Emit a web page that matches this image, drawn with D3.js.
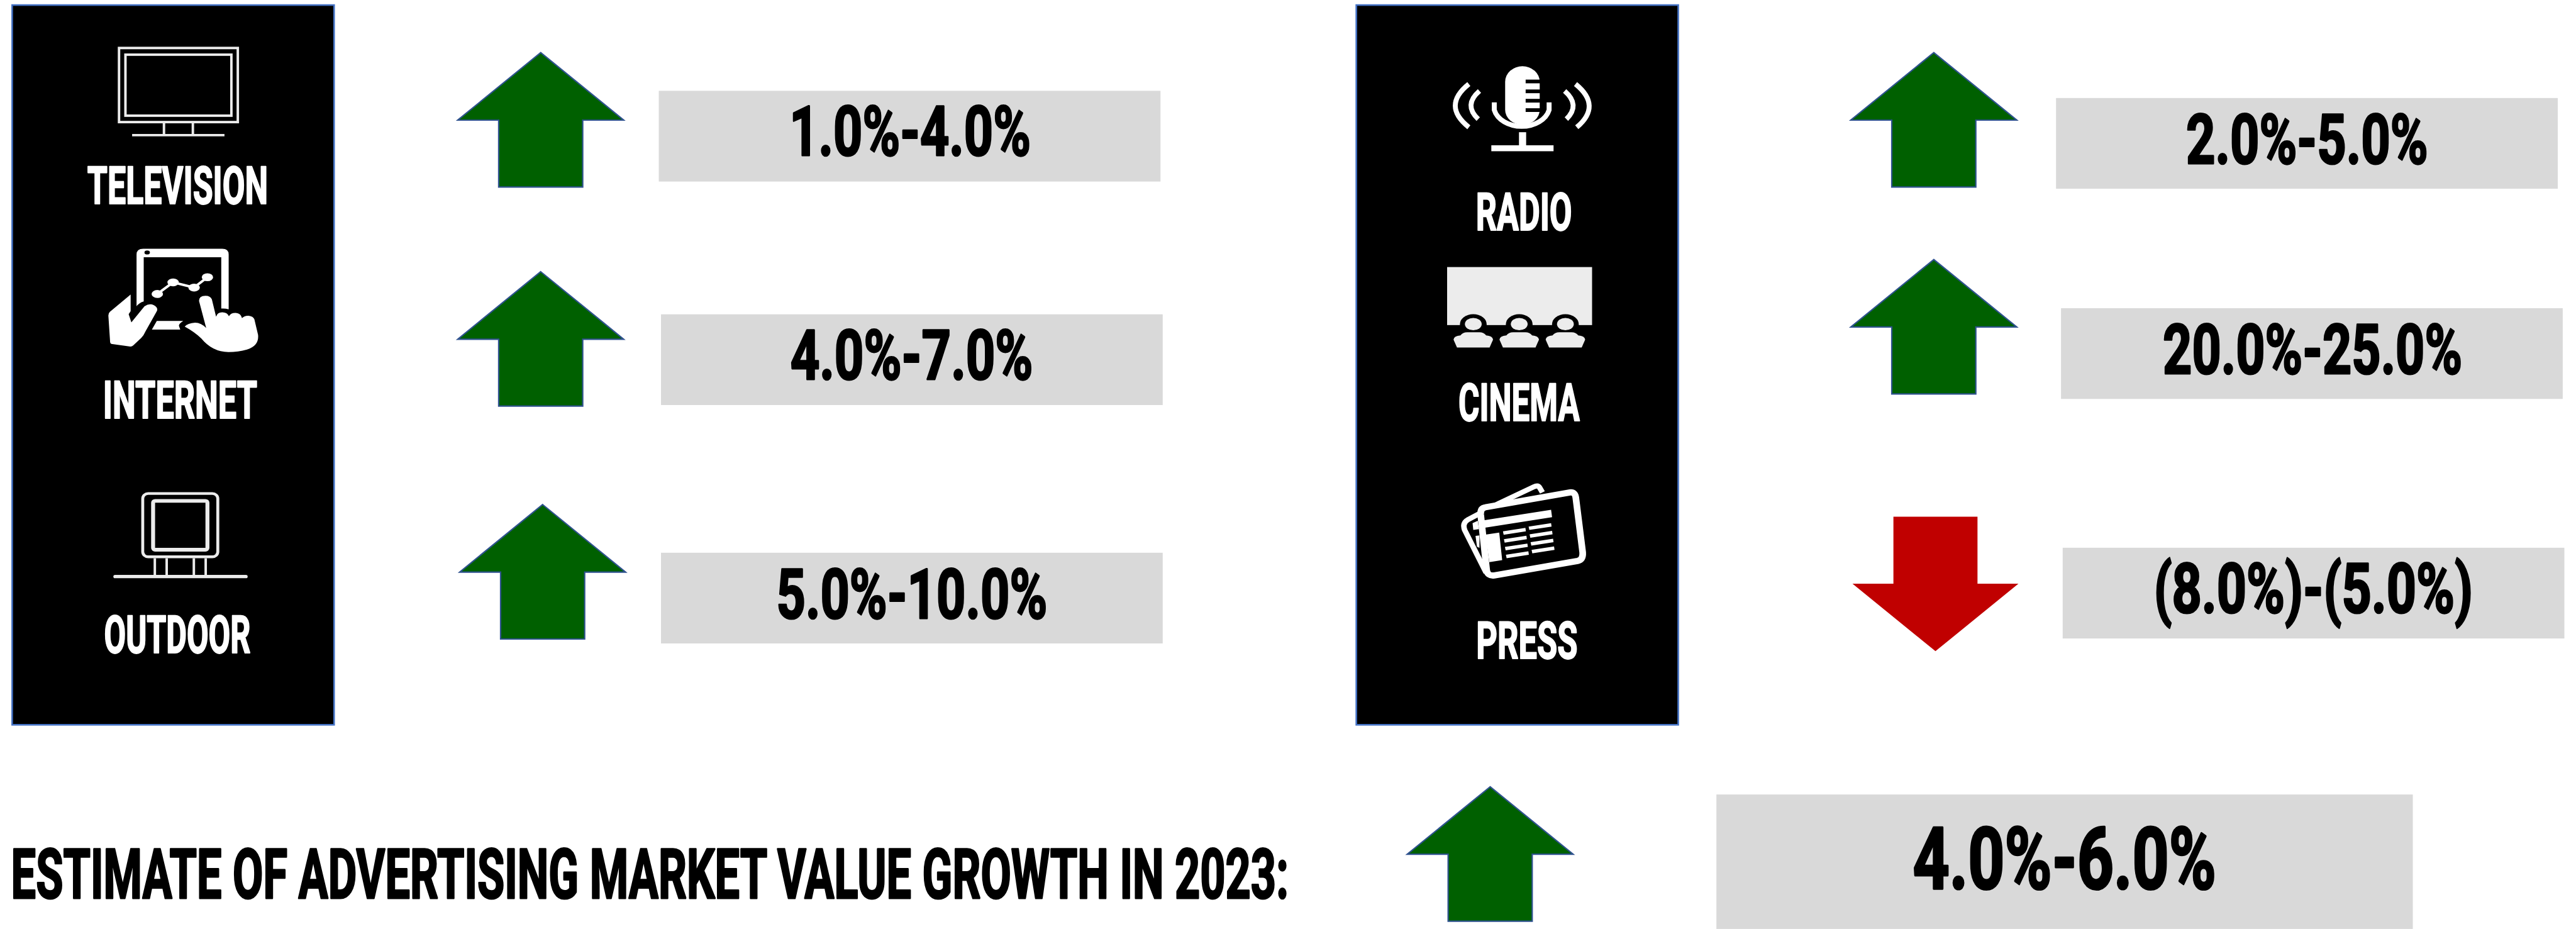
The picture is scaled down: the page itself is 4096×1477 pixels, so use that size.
<!DOCTYPE html>
<html lang="en">
<head>
<meta charset="utf-8">
<title>Advertising market value growth, 2023 estimate</title>
<script src="https://cdn.jsdelivr.net/npm/d3@7/dist/d3.min.js"></script>
<style>
  html, body { margin: 0; padding: 0; background: #fff; overflow: hidden; }
  svg { display: block; }
  text { text-rendering: geometricPrecision; }
</style>
</head>
<body>
<div id="chart"></div>
<script>
// ---- Data ----
const media = ["TELEVISION", "INTERNET", "OUTDOOR", "RADIO", "CINEMA", "PRESS"];
const growthLow = [1, 4, 5, 2, 20, -8];
const growthHigh = [4, 7, 10, 5, 25, -5];
const totalLow = 4;
const totalHigh = 6;
const headline = "ESTIMATE OF ADVERTISING MARKET VALUE GROWTH IN 2023:";

// ---- Layout, in units of the 4657-wide drawing ----
const WIDTH = 4657, HEIGHT = 1679;
const FONT = "'Liberation Sans Narrow', 'Roboto', sans-serif";
const panelX = [22, 2452];
const panelW = 582, panelY = 9, panelH = 1301;
// Ink extents for each label: [left, right, baseline, cap height]
const mediaInk = [
  [158.5, 481, 368, 68], [190, 464, 756, 68], [190, 452, 1180, 68],
  [2672, 2840, 416, 68], [2638.5, 2856, 760, 68], [2672, 2850.5, 1190, 67]
];
const valueInk = [
  [1434.5, 1860, 281, 90], [1431, 1864, 685, 90], [1408, 1890, 1117, 90],
  [3955, 4386, 295, 90], [3913, 4448, 675, 90], [3899, 4466, 1107, 90]
];
const totalInk = [3461, 4002, 1606, 112];
const headlineInk = [24.5, 2327, 1623, 90];
// Arrow placement: [centre x, top y]
const arrowAt = [[977.5, 95], [977.5, 491], [981, 912], [3496, 95], [3496, 469], [3499, 934]];
const totalArrowAt = [2694, 1422];
// Value boxes: [x, y, width, height]
const valueBox = [
  [1191, 164, 907, 164], [1195, 568, 907, 164], [1195, 999, 907, 164],
  [3717, 177, 907, 164], [3726, 557, 907, 164], [3729, 990, 907, 164]
];
const totalBox = [3103, 1436, 1259, 243];

const COLORS = { up: "#006000", down: "#c00000", outline: "#2f528f", box: "#d9d9d9", panelEdge: "#4472c4", icon: "#ffffff", soft: "#ececec" };

// ---- Helpers ----
const svg = d3.select("#chart").append("svg")
  .attr("width", 4096).attr("height", 1477)
  .attr("viewBox", `0 0 ${WIDTH} ${HEIGHT}`);

const ctx = document.createElement("canvas").getContext("2d");
const inkOf = (str, size) => {
  ctx.font = `bold ${size}px ${FONT}`;
  return ctx.measureText(str);
};
const capRatio = inkOf("H", 400).actualBoundingBoxAscent / 400;

// Places a label so its ink fills the given extent, narrowing the glyphs horizontally as needed.
function fittedText(parent, str, [left, right, base, cap], fill, weight) {
  const size = cap / capRatio;
  const m = inkOf(str, size);
  const inkW = m.actualBoundingBoxRight + m.actualBoundingBoxLeft;
  const sx = (right - left) / inkW;
  parent.append("text")
    .attr("transform", `translate(${left + m.actualBoundingBoxLeft * sx},${base}) scale(${sx},1)`)
    .attr("font-family", FONT).attr("font-weight", 700).attr("font-size", size)
    .attr("fill", fill).attr("stroke", fill).attr("stroke-width", weight)
    .attr("stroke-linejoin", "round").text(str);
}

const pct = v => v < 0 ? `(${Math.abs(v).toFixed(1)}%)` : `${v.toFixed(1)}%`;
const rangeLabel = (lo, hi) => `${pct(lo)}-${pct(hi)}`;

const arrowLine = d3.line();
// Block arrow built from its centre and top; direction follows the sign of the growth range.
function arrow(parent, [cx, top], value) {
  const up = value >= 0, hw = 150, sw = 76, len = 243, head = 122;
  const y = t => up ? top + t : top + len - t;
  const pts = [[cx, y(0)], [cx + hw, y(head)], [cx + sw, y(head)], [cx + sw, y(len)],
               [cx - sw, y(len)], [cx - sw, y(head)], [cx - hw, y(head)]];
  parent.append("path").attr("d", arrowLine(pts) + "Z")
    .attr("fill", up ? COLORS.up : COLORS.down)
    .attr("stroke", up ? COLORS.outline : "none").attr("stroke-width", 2.5);
}

// ---- Black panels and value rows ----
svg.selectAll("rect.panel").data(panelX).join("rect").attr("class", "panel")
  .attr("x", d => d).attr("y", panelY).attr("width", panelW).attr("height", panelH)
  .attr("fill", "#000").attr("stroke", COLORS.panelEdge).attr("stroke-width", 3);

media.forEach((name, i) => {
  fittedText(svg, name, mediaInk[i], "#fff", 2.5);
  arrow(svg, arrowAt[i], growthLow[i]);
  const [x, y, w, h] = valueBox[i];
  svg.append("rect").attr("x", x).attr("y", y).attr("width", w).attr("height", h).attr("fill", COLORS.box);
  fittedText(svg, rangeLabel(growthLow[i], growthHigh[i]), valueInk[i], "#000", 3.5);
});

// ---- Overall estimate row ----
fittedText(svg, headline, headlineInk, "#000", 3.5);
arrow(svg, totalArrowAt, totalLow);
svg.append("rect").attr("x", totalBox[0]).attr("y", totalBox[1]).attr("width", totalBox[2]).attr("height", totalBox[3]).attr("fill", COLORS.box);
fittedText(svg, rangeLabel(totalLow, totalHigh), totalInk, "#000", 4);

// ---- Media icons, each drawn in its own local grid ----
const iconGroup = (dx, dy, sy = 1 / 2.24) => svg.append("g").attr("transform", `translate(${dx},${dy}) scale(${1 / 2.24},${sy})`);
const LOWER_SY = 1 / 2.412;

// Television
{
  const g = iconGroup(0, 0).attr("fill", "none").attr("stroke", COLORS.soft).attr("stroke-width", 10);
  g.append("rect").attr("x", 482).attr("y", 194).attr("width", 481).attr("height", 300);
  g.append("rect").attr("x", 508).attr("y", 221).attr("width", 429).attr("height", 247);
  g.append("path").attr("d", "M664,499V547M781,499V547M535,547H909");
}

// Tablet and hands
{
  const g = iconGroup(0, 0).attr("fill", COLORS.icon);
  g.append("path").attr("d", "M553,1240V1030Q553,1007 580,1007H900Q926,1007 926,1030V1252Q912,1248 896,1249V1041H582V1220Q562,1226 553,1240Z");
  g.append("ellipse").attr("cx", 596).attr("cy", 1022).attr("rx", 11).attr("ry", 8).attr("fill", "#000");
  const nodes = [[637, 1190], [701, 1143], [786, 1164], [840, 1122]];
  g.append("path").attr("d", d3.line()(nodes)).attr("fill", "none").attr("stroke", COLORS.icon).attr("stroke-width", 10);
  g.selectAll("ellipse.node").data(nodes).join("ellipse").attr("class", "node")
    .attr("cx", d => d[0]).attr("cy", d => d[1]).attr("rx", 23).attr("ry", 16);
  g.append("path").attr("d", "M529,1192L445,1262Q438,1268 439,1280L446,1385Q447,1392 455,1393L528,1403Q535,1403 540,1398L572,1368Q582,1358 590,1340L635,1260Q642,1245 622,1235Q605,1227 585,1240L532,1305L521,1272L529,1260Z");
  g.append("path").attr("d", "M635,1299H742Q722,1312 725,1320L730,1334H615Z");
  g.append("path").attr("d", "M806,1218Q806,1197 832,1197Q852,1197 858,1212L875,1282Q880,1264 900,1264Q920,1264 927,1280Q935,1266 955,1267Q975,1268 980,1288Q990,1277 1007,1278Q1025,1280 1030,1292L1045,1355Q1050,1400 1000,1415Q965,1425 925,1425Q860,1425 815,1370Q790,1345 748,1322Q760,1308 790,1306Q815,1306 835,1328Z");
}

// Outdoor billboard
{
  const g = iconGroup(0, 700, LOWER_SY).attr("fill", "none").attr("stroke", COLORS.soft);
  g.append("rect").attr("x", 578).attr("y", 463).attr("width", 304).attr("height", 276).attr("rx", 22).attr("stroke-width", 12);
  g.append("rect").attr("x", 620).attr("y", 495).attr("width", 220).attr("height", 213).attr("rx", 8).attr("stroke-width", 16);
  g.append("path").attr("d", "M627,745V825M675,745V825M785,745V825M833,745V825").attr("stroke-width", 10);
  g.append("path").attr("d", "M466,825H996").attr("stroke-width", 14).attr("stroke-linecap", "round");
}

// Radio microphone
{
  const g = iconGroup(2430, 0);
  g.append("path").attr("fill", COLORS.icon).attr("d", "M652,330A70,62 0 0 1 792,330V445A70,60 0 0 1 652,445Z");
  [322, 362, 400, 438].forEach(y =>
    g.append("rect").attr("x", 735).attr("y", y).attr("width", 62).attr("height", 15).attr("fill", "#000"));
  g.append("path").attr("fill", "none").attr("stroke", COLORS.icon).attr("stroke-width", 20)
    .attr("d", "M608,414V445A114,86 0 0 0 830,445V414");
  g.append("rect").attr("x", 708).attr("y", 535).attr("width", 29).attr("height", 60).attr("fill", COLORS.icon);
  g.append("rect").attr("x", 596).attr("y", 588).attr("width", 252).attr("height", 24).attr("fill", COLORS.icon);
  g.append("path").attr("fill", "none").attr("stroke", COLORS.icon).attr("stroke-width", 20)
    .attr("d", "M505,340Q395,428 505,515M548,368Q482,425 543,482M893,368Q958,425 900,482M937,340Q1045,428 942,515");
}

// Cinema screen and audience
{
  const seats = [523, 709, 896];
  const g = iconGroup(2430, 0);
  g.append("rect").attr("x", 417).attr("y", 1081).attr("width", 587).attr("height", 235).attr("fill", COLORS.soft);
  g.selectAll("path.halo").data(seats).join("path").attr("class", "halo").attr("fill", "#000")
    .attr("d", d => `M${d - 54},1318V1312A54,40 0 0 1 ${d + 54},1312V1318Z`);
  g.selectAll("ellipse.head").data(seats).join("ellipse").attr("class", "head").attr("fill", COLORS.soft)
    .attr("cx", d => d).attr("cy", 1312).attr("rx", 34).attr("ry", 25);
  g.selectAll("path.body").data(seats).join("path").attr("class", "body").attr("fill", COLORS.soft)
    .attr("d", d => `M${d - 66},1407L${d - 80},1375Q${d - 78},1360 ${d - 52},1358Q${d - 42},1345 ${d - 25},1345H${d + 25}Q${d + 42},1345 ${d + 52},1358Q${d + 78},1360 ${d + 80},1375L${d + 66},1407Z`);
}

// Press: folded newspapers
{
  const g = iconGroup(2430, 700, LOWER_SY);
  g.append("path").attr("fill", "none").attr("stroke", COLORS.icon).attr("stroke-width", 22).attr("stroke-linejoin", "round")
    .attr("d", "M803,458L792,438Q785,425 768,434L628,505L500,578Q478,592 488,622L575,808");
  g.append("path").attr("fill", COLORS.icon).attr("d", "M520,592L541,582L546,618L523,622ZM532,648L548,646L548,700L538,695Z");
  g.append("path").attr("fill", "#000").attr("stroke", COLORS.icon).attr("stroke-width", 27).attr("stroke-linejoin", "round")
    .attr("d", "M572,523L915,458Q935,456 938,480L966,720Q968,752 945,757L608,820Q580,824 577,795L553,555Q551,526 572,523Z");
  g.append("path").attr("fill", COLORS.icon).attr("d", "M565,580L838,534L842,566L570,612ZM572,642L628,633L640,753L588,762Z");
  d3.range(4).forEach(row => {
    const dx = row * 4, dy = row * 34;
    g.append("path").attr("fill", COLORS.icon)
      .attr("d", `M${643 + dx},${628 + dy}L${734 + dx},${613 + dy}L${736 + dx},${628 + dy}L${646 + dx},${643 + dy}ZM${747 + dx},${607 + dy}L${838 + dx},${592 + dy}L${840 + dx},${607 + dy}L${750 + dx},${622 + dy}Z`);
  });
}
</script>
</body>
</html>
